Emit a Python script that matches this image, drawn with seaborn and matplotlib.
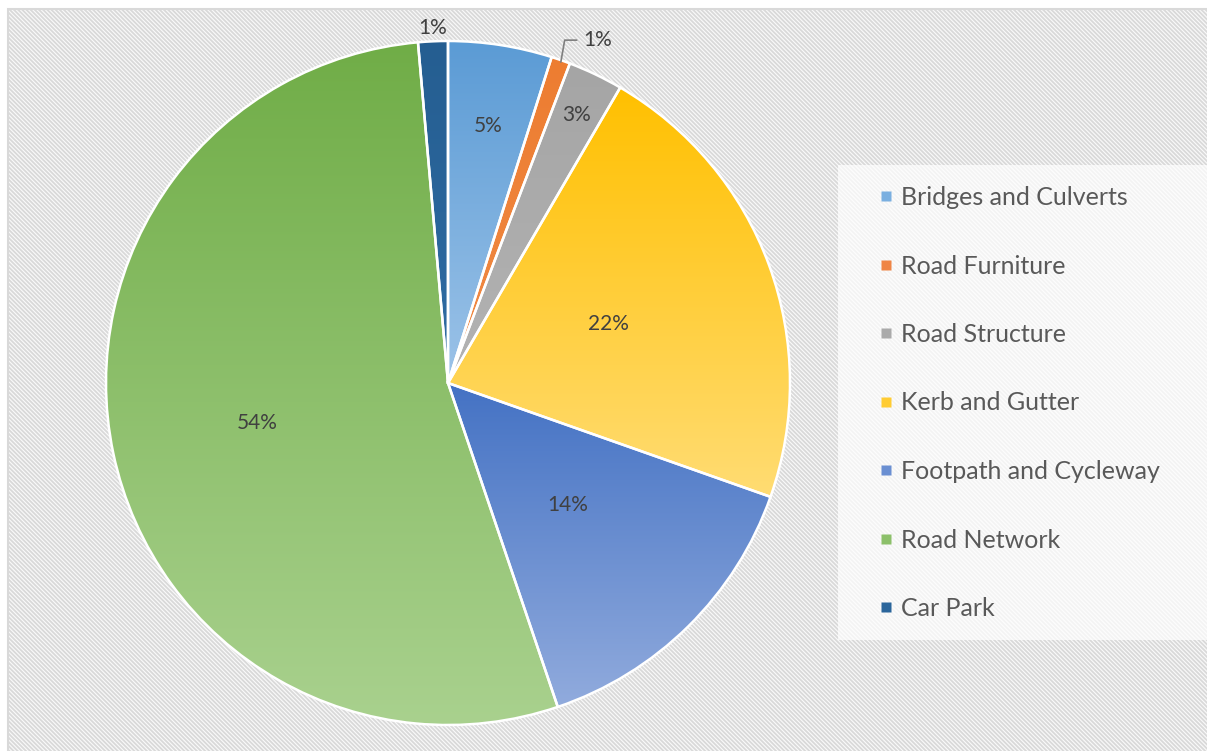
import matplotlib.pyplot as plt
import numpy as np
import seaborn as sns
from matplotlib.colors import LinearSegmentedColormap
from matplotlib.lines import Line2D
from matplotlib.patches import Rectangle

categories = [
    "Bridges and Culverts",
    "Road Furniture",
    "Road Structure",
    "Kerb and Gutter",
    "Footpath and Cycleway",
    "Road Network",
    "Car Park",
]
shares = [4.9, 0.9, 2.6, 22.0, 14.4, 53.8, 1.4]

# gradient (top colour, bottom colour) per slice
top_colors = ["#5b9bd5", "#ed7d31", "#a5a5a5", "#ffc000", "#4472c4", "#70ad47", "#255e91"]
bottom_colors = ["#9cc3e8", "#f08a45", "#b3b3b3", "#ffdc73", "#91abdd", "#a9d18e", "#2f6ca4"]
legend_colors = ["#7aafe0", "#ef8545", "#aaaaaa", "#ffcc33", "#6a8fd2", "#8cc06a", "#2a659b"]

# label distance from centre as fraction of radius
label_r = [0.76, None, 0.87, 0.5, 0.5, 0.57, 1.04]

sns.set_theme(style="white")
plt.rcParams["font.family"] = ["Lato", "DejaVu Sans"]
plt.rcParams["hatch.color"] = "#e7e7e7"
plt.rcParams["hatch.linewidth"] = 1.3

W, H = 1207, 751
fig = plt.figure(figsize=(W / 100, H / 100), dpi=100)
ax = fig.add_axes([0, 0, 1, 1])

# chart area background with diagonal texture and thin border
ax.add_patch(Rectangle((8, -20), W + 20, H - 9 + 20, facecolor="#fafafa",
                       edgecolor="#d9d9d9", hatch="\\" * 8, lw=1.5, zorder=0))
# legend panel
ax.add_patch(Rectangle((838, H - 640), W - 838 + 5, 475, facecolor="white",
                       alpha=0.7, edgecolor="none", zorder=1))

cx, cy, R = 448, H - 383, 342
wedges, _ = ax.pie(
    shares,
    startangle=90,
    counterclock=False,
    center=(cx, cy),
    radius=R,
    wedgeprops=dict(edgecolor="white", linewidth=1.8),
    frame=True,
)

for w, c0, c1 in zip(wedges, top_colors, bottom_colors):
    ext = w.get_path().get_extents()
    cmap = LinearSegmentedColormap.from_list("g", [c1, c0])
    grad = np.linspace(0, 1, 256).reshape(-1, 1)
    im = ax.imshow(grad, cmap=cmap, origin="lower", aspect="auto",
                   extent=(ext.x0, ext.x1, ext.y0, ext.y1), zorder=2)
    im.set_clip_path(w)
    w.set_facecolor("none")
    w.set_zorder(3)

ax.set_xlim(0, W)
ax.set_ylim(0, H)
ax.axis("off")

txt_color = "#404040"
for i, (w, s) in enumerate(zip(wedges, shares)):
    mid = np.deg2rad((w.theta1 + w.theta2) / 2)
    lab = f"{s:.0f}%"
    if label_r[i] is None:
        ex, ey = cx + R * np.cos(mid), cy + R * np.sin(mid)
        ax.annotate(lab, xy=(ex, ey - 2), xytext=(ex + 22, ey + 20),
                    fontsize=15, color=txt_color, va="center", ha="left",
                    arrowprops=dict(arrowstyle="-", color="#7f7f7f", lw=1.2,
                                    shrinkA=2, shrinkB=0,
                                    connectionstyle="angle,angleA=0,angleB=80,rad=0"),
                    zorder=5)
    else:
        r = label_r[i] * R
        ax.text(cx + r * np.cos(mid), cy + r * np.sin(mid), lab, fontsize=15,
                color=txt_color, ha="center", va="center", zorder=5)

handles = [Line2D([0], [0], marker="s", color="none", markerfacecolor=c,
                  markeredgecolor="none", markersize=7) for c in legend_colors]
leg = ax.legend(handles, categories, loc="center left",
                bbox_to_anchor=(880 / W, 1 - 403 / H), frameon=False,
                fontsize=18, labelspacing=1.82, handlelength=0.45,
                handletextpad=0.4, borderpad=0, borderaxespad=0)
for t in leg.get_texts():
    t.set_color("#595959")

fig.savefig("out.png", dpi=100)
